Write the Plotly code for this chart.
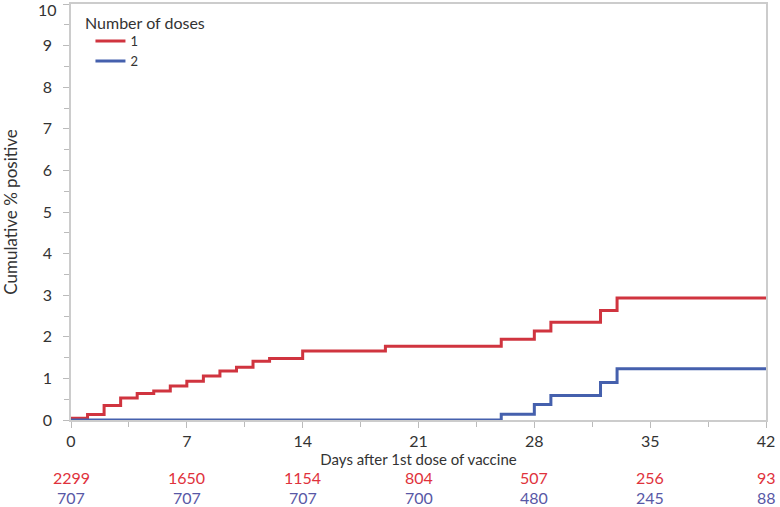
import plotly.graph_objects as go

# Step-function data (day, cumulative % positive)
days_1 = [0, 1, 2, 3, 4, 5, 6, 7, 8, 9, 10, 11, 12, 14, 19, 26, 28, 29, 32, 33, 42]
pct_1 = [0.04, 0.13, 0.35, 0.53, 0.64, 0.70, 0.82, 0.93, 1.06, 1.18, 1.27, 1.41, 1.48,
         1.66, 1.77, 1.94, 2.14, 2.35, 2.63, 2.93, 2.93]
days_2 = [0, 26, 28, 29, 32, 33, 42]
pct_2 = [0.0, 0.14, 0.37, 0.59, 0.90, 1.23, 1.23]

# Numbers at risk
risk_days = [0, 7, 14, 21, 28, 35, 42]
risk_1 = [2299, 1650, 1154, 804, 507, 256, 93]
risk_2 = [707, 707, 707, 700, 480, 245, 88]

# Y ticks (the top label is drawn inside the page, below the frame edge)
y_ticks = [0, 1, 2, 3, 4, 5, 6, 7, 8, 9, 10]
y_text = ["0", "1", "2", "3", "4", "5", "6", "7", "8", "9", ""]

RED = "#d0343f"
BLUE = "#4560ad"
FONT = "Lato"

fig = go.Figure()
# Adding the two step curves
fig.add_trace(go.Scatter(x=days_1, y=pct_1, mode="lines", name="1",
                         line=dict(color=RED, width=3, shape="hv")))
fig.add_trace(go.Scatter(x=days_2, y=pct_2, mode="lines", name="2",
                         line=dict(color=BLUE, width=3, shape="hv")))

# Numbers at risk under the axis
for d, a, b in zip(risk_days, risk_1, risk_2):
    fig.add_annotation(x=d, y=-0.139, xref="x", yref="paper", text=str(a), yanchor="middle",
                       showarrow=False, font=dict(color="#e0323c", size=16, family=FONT))
    fig.add_annotation(x=d, y=-0.187, xref="x", yref="paper", text=str(b), yanchor="middle",
                       showarrow=False, font=dict(color="#5858a6", size=16, family=FONT))

# Top y label, nudged down so it stays on the page
fig.add_annotation(x=0, y=1, xref="paper", yref="paper", text="10", xanchor="right",
                   yanchor="middle", xshift=-12, yshift=-5, showarrow=False,
                   font=dict(size=16, color="#333333", family=FONT))

# Legend title as a free text
fig.add_annotation(x=0.0173, y=0.956, xref="paper", yref="paper", text="Number of doses",
                   xanchor="left", yanchor="middle", showarrow=False,
                   font=dict(size=16, color="#333333", family=FONT))

axis_common = dict(showline=True, linecolor="#cccccc", linewidth=1.5, mirror=True,
                   ticks="outside", ticklen=6, tickcolor="#bbbbbb", showgrid=False,
                   zeroline=False, automargin=False,
                   tickfont=dict(size=16, color="#333333", family=FONT))

fig.update_layout(
    width=780, height=507,
    margin=dict(l=71, r=14, t=4, b=87),
    plot_bgcolor="white", paper_bgcolor="white",
    font=dict(family=FONT, color="#333333"),
    showlegend=True,
    legend=dict(x=0.028, y=0.947, xanchor="left", yanchor="top",
                font=dict(size=13, family=FONT), bgcolor="rgba(0,0,0,0)",
                tracegroupgap=0, itemwidth=30),
    xaxis=dict(range=[0, 42], tickvals=risk_days,
               minor=dict(dtick=3.5, tick0=0, ticks="outside", ticklen=5, tickcolor="#bbbbbb"),
               title=dict(text="Days after 1st dose of vaccine", font=dict(size=15, family=FONT), standoff=4),
               **axis_common),
    yaxis=dict(range=[0, 10], tickvals=y_ticks, ticktext=y_text, ticklabelstandoff=8,
               minor=dict(dtick=0.5, ticks="outside", ticklen=5, tickcolor="#bbbbbb"),
               title=dict(text="Cumulative % positive", font=dict(size=17, family=FONT), standoff=22),
               **axis_common),
)

fig.write_html("out.html", config={"displayModeBar": False},
               post_script="document.body.style.margin='0';")
